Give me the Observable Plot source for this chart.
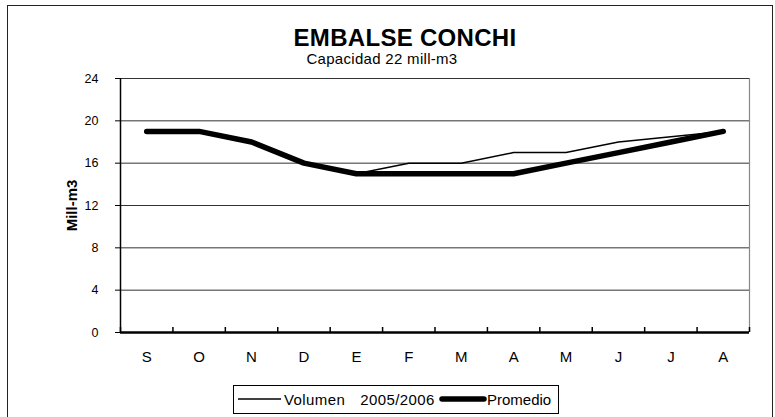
<!DOCTYPE html>
<html><head><meta charset="utf-8">
<script src="https://cdn.jsdelivr.net/npm/d3@7"></script>
<script src="https://cdn.jsdelivr.net/npm/@observablehq/plot@0.6"></script>
<style>
body{margin:0;background:#fff;overflow:hidden}
#wrap{position:relative;width:775px;height:417px;overflow:hidden;font-family:"Liberation Sans",Arial,sans-serif;color:#000;background:#fff}
.abs{position:absolute;white-space:pre;line-height:1}
#wrap svg.plot{position:absolute;left:0;top:0}
#wrap svg.plot g[aria-label="y-axis tick label"]{font-size:12.5px}
#wrap svg.plot g[aria-label="x-axis tick label"]{font-size:15px}
#wrap svg.plot g[aria-label="text"]{font-size:15px;font-weight:bold}
</style></head><body><div id="wrap"></div>
<script>
const title = "EMBALSE CONCHI";
const subtitle = "Capacidad 22 mill-m3";
const yLabel = "Mill-m3";
const months = ["S","O","N","D","E","F","M","A","M","J","J","A"];
const volumen = [19, 19, 18, 16, 15, 16, 16, 17, 17, 18, 18.5, 19];
const promedio = [19, 19, 18, 16, 15, 15, 15, 15, 16, 17, 18, 19];
const seriesNames = ["Volumen  2005/2006", "Promedio"];
const yTicks = [0, 4, 8, 12, 16, 20, 24];

const W = 775, H = 417, mL = 120, mR = 26, mT = 78, mB = 85;
const frameH = H - mT - mB;
const font = '"Liberation Sans",Arial,sans-serif';
const rows = (vals) => vals.map((v, i) => ({i: i + 0.5, v}));

const wrap = document.getElementById("wrap");

// outer frame
const frame = document.createElement("div");
frame.style.cssText = "position:absolute;left:7px;top:5px;width:764px;height:500px;border:1.5px solid #222;";
wrap.appendChild(frame);

const chart = Plot.plot({
  width: W, height: H,
  marginLeft: mL, marginRight: mR, marginTop: mT, marginBottom: mB,
  style: {fontFamily: font, fontSize: "12px", color: "#000", background: "transparent", overflow: "visible"},
  x: {domain: [0, months.length], label: null},
  y: {domain: [0, 24], label: null},
  marks: [
    Plot.ruleY(yTicks.slice(1), {stroke: "#333", strokeWidth: 1}),
    Plot.ruleX([months.length], {stroke: "#888", strokeWidth: 1.2}),
    Plot.ruleX([0], {stroke: "#000", strokeWidth: 1.5}),
    Plot.ruleX(d3.range(months.length + 1), {stroke: "#000", strokeWidth: 1.5, insetTop: frameH - 5}),
    Plot.ruleY([0], {stroke: "#000", strokeWidth: 2.5}),
    Plot.axisY({ticks: yTicks, tickSize: 5, tickPadding: 17, label: null, fontSize: 12.5, anchor: "left"}),
    Plot.axisX({ticks: months.map((m, i) => i + 0.5), tickFormat: d => months[Math.floor(d)], tickSize: 0, tickPadding: 19, label: null, fontSize: 15}),
    Plot.text([yLabel], {frameAnchor: "left", dx: -48, rotate: -90, textAnchor: "middle", fontWeight: "bold", fontSize: 15}),
    Plot.line(rows(volumen), {x: "i", y: "v", stroke: "#000", strokeWidth: 1.5}),
    Plot.line(rows(promedio), {x: "i", y: "v", stroke: "#000", strokeWidth: 5.5, strokeLinecap: "round", strokeLinejoin: "round"})
  ]
});
chart.classList.add("plot");
wrap.appendChild(chart);

function addText(txt, css) {
  const d = document.createElement("div");
  d.className = "abs";
  d.textContent = txt;
  d.style.cssText += css;
  wrap.appendChild(d);
  return d;
}
addText(title, "left:205px;width:400px;text-align:center;top:28px;line-height:20px;font-size:24px;font-weight:bold;letter-spacing:0.3px;");
addText(subtitle, "left:182px;width:400px;text-align:center;top:51px;font-size:15px;letter-spacing:0.3px;");

// legend
const lg = document.createElement("div");
lg.style.cssText = "position:absolute;left:233px;top:385px;width:324px;height:27px;border:1px solid #000;background:#fff;";
wrap.appendChild(lg);
function addSwatch(x1, x2, sw, cap) {
  const ns = "http://www.w3.org/2000/svg";
  const s = document.createElementNS(ns, "svg");
  s.setAttribute("width", x2 - x1 + 10);
  s.setAttribute("height", 12);
  s.style.cssText = `position:absolute;left:${x1 - 5}px;top:${399 - 6}px;`;
  const l = document.createElementNS(ns, "line");
  l.setAttribute("x1", 5); l.setAttribute("x2", x2 - x1 + 5);
  l.setAttribute("y1", 6); l.setAttribute("y2", 6);
  l.setAttribute("stroke", "#000"); l.setAttribute("stroke-width", sw);
  l.setAttribute("stroke-linecap", cap);
  s.appendChild(l);
  wrap.appendChild(s);
}
addSwatch(238, 281, 1.5, "butt");
addText(seriesNames[0], "left:284px;top:392px;font-size:15px;letter-spacing:0.4px;word-spacing:3px;");
addSwatch(442, 484, 5.5, "round");
addText(seriesNames[1], "left:487px;top:392px;font-size:15px;");
</script>
</body></html>
